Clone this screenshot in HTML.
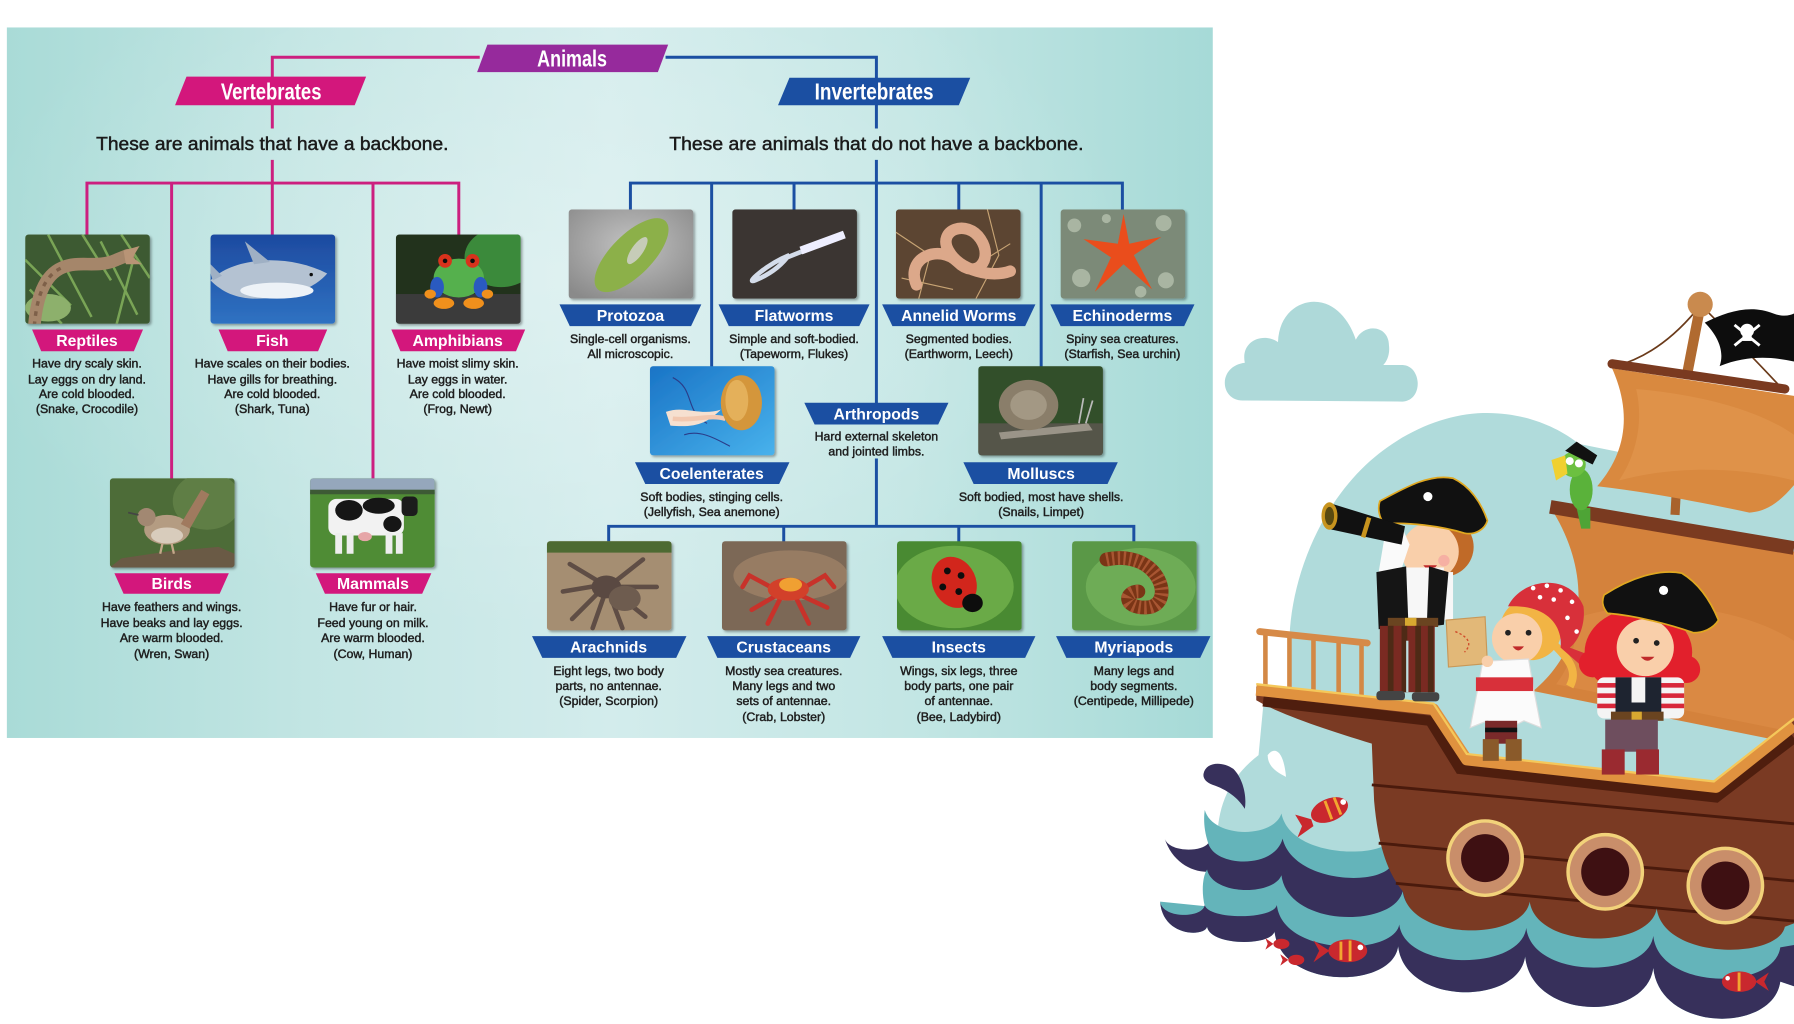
<!DOCTYPE html>
<html><head><meta charset="utf-8"><style>
html,body{margin:0;padding:0;background:#fff;overflow:hidden;}
svg{display:block;}
.b{font-family:"Liberation Sans",sans-serif;font-size:10.8px;fill:#1e1e1e;stroke:#1e1e1e;stroke-width:0.4;text-anchor:middle;}
.l{font-family:"Liberation Sans",sans-serif;font-size:13.8px;font-weight:bold;fill:#fff;text-anchor:middle;}
.h{font-family:"Liberation Sans",sans-serif;font-size:20px;font-weight:bold;fill:#fff;text-anchor:middle;}
.s{font-family:"Liberation Sans",sans-serif;font-size:16px;fill:#1a1a1a;stroke:#1a1a1a;stroke-width:0.4;text-anchor:middle;}
</style></head><body>
<svg width="1794" height="1024" viewBox="0 0 1568 895" xmlns="http://www.w3.org/2000/svg">
<defs>
<linearGradient id="bg" x1="0" y1="0" x2="1" y2="0">
<stop offset="0" stop-color="#a9dbd7"/><stop offset="0.25" stop-color="#c2e5e3"/><stop offset="0.5" stop-color="#d3ecec"/><stop offset="0.75" stop-color="#c3e6e4"/><stop offset="1" stop-color="#a6dad7"/>
</linearGradient>
<radialGradient id="glow" cx="0.45" cy="0.35" r="0.5"><stop offset="0" stop-color="#fff" stop-opacity="0.3"/><stop offset="1" stop-color="#fff" stop-opacity="0"/></radialGradient>
<clipPath id="ic"><rect width="109" height="78" rx="3"/></clipPath>
<filter id="sh" x="-10%" y="-10%" width="125%" height="125%"><feDropShadow dx="1.5" dy="1.5" stdDeviation="1.2" flood-color="#000" flood-opacity="0.35"/></filter>
<linearGradient id="shark" x1="0" y1="0" x2="0" y2="1"><stop offset="0" stop-color="#1d4aa0"/><stop offset="1" stop-color="#2f72c2"/></linearGradient>
<linearGradient id="jelly" x1="0" y1="0" x2="1" y2="1"><stop offset="0" stop-color="#1a74c6"/><stop offset="1" stop-color="#48b2ec"/></linearGradient>
<radialGradient id="proto" cx="0.5" cy="0.4" r="0.7"><stop offset="0" stop-color="#c2c2c2"/><stop offset="1" stop-color="#8a8a8a"/></radialGradient>
</defs>

<rect x="6" y="24" width="1054" height="621" fill="url(#bg)"/>
<rect x="6" y="24" width="1054" height="621" fill="url(#glow)"/>

<g fill="none" stroke-width="2.6" stroke-linecap="square">
<path stroke="#cc1f7f" d="M418,50 H238 V67 M238,92 V111 M238,141 V160 M76,160 H401 M76,160 V205 M150,160 V418 M238,160 V205 M326,160 V418 M401,160 V205"/>
<path stroke="#1b4fa2" d="M583,50 H766 V68 M766,92 V111 M766,141 V160 M551,160 H981 M551,160 V183 M622,160 V320 M694,160 V183 M766,160 V352 M838,160 V183 M910,160 V320 M981,160 V183 M766,402 V460 M532,460 H991 M532,460 V473 M685,460 V473 M838,460 V473 M991,460 V473"/>
</g>

<polygon points="426,39 584,39 575,63 417,63" fill="#962a9c"/>
<text class="h" x="500" y="58" textLength="61" lengthAdjust="spacingAndGlyphs">Animals</text>
<polygon points="163,67 320,67 310,92 153,92" fill="#d3177c"/>
<text class="h" x="237" y="87" textLength="88" lengthAdjust="spacingAndGlyphs">Vertebrates</text>
<polygon points="690,68 848,68 838,92 680,92" fill="#1b4fa2"/>
<text class="h" x="764" y="87" textLength="104" lengthAdjust="spacingAndGlyphs">Invertebrates</text>

<text class="s" x="238" y="131" textLength="308" lengthAdjust="spacingAndGlyphs">These are animals that have a backbone.</text>
<text class="s" x="766" y="131" textLength="362" lengthAdjust="spacingAndGlyphs">These are animals that do not have a backbone.</text>

<g transform="translate(22,205)" filter="url(#sh)"><g clip-path="url(#ic)">
<rect width="109" height="78" fill="#3e5a30"/>
<g stroke="#79a456" stroke-width="2.2" fill="none"><path d="M0,22 L40,62 M20,0 L58,72 M66,6 L98,70 M84,0 L109,38 M4,48 L32,78 M95,20 L80,78 M50,0 L75,40"/></g>
<ellipse cx="20" cy="64" rx="20" ry="12" fill="#8db06c"/>
<path d="M8,80 C10,56 16,36 32,29 C48,22 62,30 80,22 L90,18" stroke="#a5866a" stroke-width="11" fill="none" stroke-linecap="round"/>
<path d="M8,80 C10,56 16,36 32,29" stroke="#7e6048" stroke-width="3" fill="none" stroke-dasharray="4 5"/>
<path d="M86,14 L100,10 L94,20 L102,26 L88,26 Z" fill="#b89476"/>
</g></g>
<g transform="translate(184,205)" filter="url(#sh)"><g clip-path="url(#ic)">
<rect width="109" height="78" fill="url(#shark)"/>
<path d="M0,40 C20,20 66,16 102,34 C92,46 70,56 40,56 C22,56 10,50 0,40 Z" fill="#b4c2d2"/>
<ellipse cx="58" cy="49" rx="32" ry="7" fill="#edf2f7"/>
<path d="M38,26 L30,6 L52,24 Z" fill="#9fb0c4"/>
<path d="M2,40 L-4,22 L10,36 Z" fill="#9fb0c4"/>
<circle cx="88" cy="35" r="1.5" fill="#111"/>
</g></g>
<g transform="translate(346,205)" filter="url(#sh)"><g clip-path="url(#ic)">
<rect width="109" height="78" fill="#22321e"/>
<ellipse cx="92" cy="20" rx="32" ry="26" fill="#3a8a3a"/>
<rect y="52" width="109" height="26" fill="#3a3a3a"/>
<ellipse cx="55" cy="38" rx="22" ry="17" fill="#55b04e"/>
<ellipse cx="36" cy="46" rx="6" ry="9" fill="#2a5ac0"/>
<ellipse cx="74" cy="46" rx="6" ry="9" fill="#2a5ac0"/>
<circle cx="43" cy="23" r="6" fill="#d8321e"/><circle cx="67" cy="23" r="6" fill="#d8321e"/>
<circle cx="43" cy="23" r="2" fill="#111"/><circle cx="67" cy="23" r="2" fill="#111"/>
<ellipse cx="42" cy="60" rx="9" ry="5" fill="#f0901e"/><ellipse cx="68" cy="60" rx="9" ry="5" fill="#f0901e"/>
<ellipse cx="30" cy="52" rx="5" ry="4" fill="#f0901e"/><ellipse cx="80" cy="52" rx="5" ry="4" fill="#f0901e"/>
</g></g>
<g transform="translate(96,418)" filter="url(#sh)"><g clip-path="url(#ic)">
<rect width="109" height="78" fill="#4d6c37"/>
<ellipse cx="85" cy="20" rx="30" ry="25" fill="#5f7e45"/>
<polygon points="10,70 50,64 95,60 109,66 109,78 0,78" fill="#6b5a44"/>
<ellipse cx="50" cy="45" rx="20" ry="13" fill="#b49c82"/>
<ellipse cx="50" cy="50" rx="14" ry="7" fill="#d8ccbc"/>
<circle cx="32" cy="34" r="8" fill="#a28872"/>
<polygon points="62,40 80,10 87,14 70,44" fill="#a07a5e"/>
<path d="M25,32 L16,30" stroke="#444" stroke-width="1.5"/>
<path d="M46,57 L44,66 M54,57 L56,66" stroke="#c4a88a" stroke-width="2"/>
</g></g>
<g transform="translate(271,418)" filter="url(#sh)"><g clip-path="url(#ic)">
<rect width="109" height="78" fill="#4f8c36"/>
<rect width="109" height="12" fill="#95a7bc"/>
<rect y="10" width="109" height="4" fill="#3e5a36"/>
<rect x="16" y="18" width="66" height="32" rx="7" fill="#f2f2f2"/>
<ellipse cx="34" cy="28" rx="12" ry="9" fill="#151515"/>
<ellipse cx="60" cy="24" rx="14" ry="7" fill="#151515"/>
<ellipse cx="72" cy="40" rx="8" ry="7" fill="#151515"/>
<rect x="80" y="16" width="14" height="17" rx="4" fill="#1a1a1a"/>
<rect x="22" y="48" width="6" height="18" fill="#eee"/><rect x="32" y="48" width="6" height="18" fill="#eee"/>
<rect x="66" y="48" width="6" height="18" fill="#eee"/><rect x="75" y="48" width="6" height="18" fill="#eee"/>
<ellipse cx="48" cy="51" rx="6" ry="4" fill="#e6a6a8"/>
</g></g>
<g transform="translate(497,183)" filter="url(#sh)"><g clip-path="url(#ic)">
<rect width="109" height="78" fill="url(#proto)"/>
<ellipse cx="55" cy="40" rx="42" ry="18" transform="rotate(-45 55 40)" fill="#8cb04a"/>
<ellipse cx="60" cy="36" rx="14" ry="5" transform="rotate(-55 60 36)" fill="#c6ccb8"/>
</g></g>
<g transform="translate(640,183)" filter="url(#sh)"><g clip-path="url(#ic)">
<rect width="109" height="78" fill="#3b3631"/>
<path d="M50,40 C30,48 10,66 20,62 C30,58 40,52 48,42 L98,22" stroke="#d4dcea" stroke-width="4" fill="none"/>
<path d="M60,36 L98,22" stroke="#eef" stroke-width="7"/>
</g></g>
<g transform="translate(783,183)" filter="url(#sh)"><g clip-path="url(#ic)">
<rect width="109" height="78" fill="#5c4532"/>
<g stroke="#c8a474" stroke-width="1" fill="none"><path d="M0,20 L30,40 L20,78 M80,0 L90,40 L70,78 M5,60 L50,70 M100,30 L60,55"/></g>
<path d="M18,66 C8,42 38,30 54,46 C70,62 86,44 74,26 C62,8 36,18 46,36 C56,54 84,60 100,54" stroke="#dca88a" stroke-width="10" fill="none" stroke-linecap="round"/>
</g></g>
<g transform="translate(927,183)" filter="url(#sh)"><g clip-path="url(#ic)">
<rect width="109" height="78" fill="#7b8a78"/>
<g fill="#a9b5a2"><circle cx="12" cy="14" r="6"/><circle cx="90" cy="12" r="7"/><circle cx="18" cy="60" r="8"/><circle cx="92" cy="62" r="7"/><circle cx="70" cy="72" r="5"/><circle cx="40" cy="8" r="4"/></g>
<polygon points="55,4 60,30 88,24 64,40 80,70 55,48 30,72 44,42 20,26 50,30" fill="#ea4e1c"/>
</g></g>
<g transform="translate(568,320)" filter="url(#sh)"><g clip-path="url(#ic)">
<rect width="109" height="78" fill="url(#jelly)"/>
<g stroke="#2a3e8a" stroke-width="1" fill="none"><path d="M20,10 C40,20 30,40 50,50 M30,60 C45,55 60,65 70,70"/></g>
<path d="M14,40 C30,34 44,44 62,38 C50,50 40,54 18,52 Z" fill="#f6e0d0"/>
<path d="M20,46 C40,48 52,42 66,46" stroke="#f2c8b0" stroke-width="4" fill="none"/>
<ellipse cx="80" cy="32" rx="18" ry="24" fill="#d4963a"/>
<ellipse cx="76" cy="30" rx="10" ry="18" fill="#e4b05a"/>
</g></g>
<g transform="translate(855,320)" filter="url(#sh)"><g clip-path="url(#ic)">
<rect width="109" height="78" fill="#33502a"/>
<rect y="50" width="109" height="28" fill="#54544a"/>
<path d="M18,58 L96,50 L100,56 L20,64 Z" fill="#9a9488"/>
<ellipse cx="44" cy="34" rx="26" ry="22" fill="#8a7e6a"/>
<ellipse cx="44" cy="34" rx="16" ry="13" fill="#a39884"/>
<path d="M88,50 L92,28 M94,50 L100,30" stroke="#bbb" stroke-width="1.5"/>
</g></g>
<g transform="translate(478,473)" filter="url(#sh)"><g clip-path="url(#ic)">
<rect width="109" height="78" fill="#a58e72"/>
<rect width="109" height="10" fill="#4e6a32"/>
<g stroke="#5e4e44" stroke-width="4" fill="none" stroke-linecap="round"><path d="M50,38 L20,20 M50,38 L14,44 M50,40 L22,68 M52,42 L40,76 M56,38 L84,16 M56,40 L96,40 M56,42 L86,66 M54,44 L66,76"/></g>
<ellipse cx="52" cy="40" rx="13" ry="10" fill="#5a4a42"/>
<ellipse cx="68" cy="50" rx="14" ry="11" fill="#6e5c50"/>
</g></g>
<g transform="translate(631,473)" filter="url(#sh)"><g clip-path="url(#ic)">
<rect width="109" height="78" fill="#7c6756"/>
<ellipse cx="60" cy="30" rx="50" ry="22" fill="#977c64"/>
<g stroke="#c8302a" stroke-width="4" fill="none" stroke-linecap="round"><path d="M50,44 L24,30 L18,40 M50,46 L26,60 M52,48 L40,72 M66,44 L90,30 L98,40 M66,46 L92,58 M64,48 L76,72"/></g>
<ellipse cx="58" cy="42" rx="18" ry="10" fill="#d2402a"/>
<ellipse cx="60" cy="38" rx="10" ry="6" fill="#f0a030"/>
</g></g>
<g transform="translate(784,473)" filter="url(#sh)"><g clip-path="url(#ic)">
<rect width="109" height="78" fill="#4a8a30"/>
<ellipse cx="50" cy="40" rx="52" ry="36" fill="#6aaa46"/>
<ellipse cx="50" cy="36" rx="19" ry="23" transform="rotate(-25 50 36)" fill="#d2251e"/>
<ellipse cx="66" cy="54" rx="9" ry="8" fill="#111"/>
<g fill="#111"><circle cx="44" cy="26" r="3"/><circle cx="56" cy="30" r="3"/><circle cx="40" cy="40" r="3"/><circle cx="54" cy="44" r="3"/></g>
</g></g>
<g transform="translate(937,473)" filter="url(#sh)"><g clip-path="url(#ic)">
<rect width="109" height="78" fill="#5a9846"/>
<ellipse cx="60" cy="40" rx="48" ry="34" fill="#6eac56"/>
<path d="M30,16 C78,6 92,58 64,58 C44,58 46,44 58,44" stroke="#7a3418" stroke-width="12" fill="none" stroke-linecap="round"/>
<path d="M30,16 C78,6 92,58 64,58 C44,58 46,44 58,44" stroke="#a85630" stroke-width="12" fill="none" stroke-dasharray="2 3"/>
</g></g>

<g fill="#d3177c">
<polygon points="28,288 125,288 117,307 36,307"/>
<polygon points="191,288 286,288 278,307 199,307"/>
<polygon points="342,288 459,288 451,307 350,307"/>
<polygon points="100,501 200,501 192,519 108,519"/>
<polygon points="276,501 377,501 369,519 284,519"/>
</g>
<g fill="#1b4fa2">
<polygon points="489,266 613,266 604,285 498,285"/>
<polygon points="628,266 760,266 751,285 637,285"/>
<polygon points="771,266 905,266 896,285 780,285"/>
<polygon points="918,266 1044,266 1035,285 927,285"/>
<polygon points="555,404 690,404 681,423 564,423"/>
<polygon points="703,352 829,352 820,371 712,371"/>
<polygon points="842,404 977,404 968,423 851,423"/>
<polygon points="465,556 600,556 591,575 474,575"/>
<polygon points="618,556 752,556 743,575 627,575"/>
<polygon points="771,556 905,556 896,575 780,575"/>
<polygon points="923,556 1058,556 1049,575 932,575"/>
</g>
<text class="l" x="76" y="302.5">Reptiles</text>
<text class="l" x="238" y="302.5">Fish</text>
<text class="l" x="400" y="302.5">Amphibians</text>
<text class="l" x="150" y="515">Birds</text>
<text class="l" x="326" y="515">Mammals</text>
<text class="l" x="551" y="280.5">Protozoa</text>
<text class="l" x="694" y="280.5">Flatworms</text>
<text class="l" x="838" y="280.5">Annelid Worms</text>
<text class="l" x="981" y="280.5">Echinoderms</text>
<text class="l" x="622" y="418.5">Coelenterates</text>
<text class="l" x="766" y="366.5">Arthropods</text>
<text class="l" x="910" y="418.5">Molluscs</text>
<text class="l" x="532" y="570.5">Arachnids</text>
<text class="l" x="685" y="570.5">Crustaceans</text>
<text class="l" x="838" y="570.5">Insects</text>
<text class="l" x="991" y="570.5">Myriapods</text>

<g class="b">
<text x="76" y="321">Have dry scaly skin.</text><text x="76" y="335">Lay eggs on dry land.</text><text x="76" y="348">Are cold blooded.</text><text x="76" y="361">(Snake, Crocodile)</text>
<text x="238" y="321">Have scales on their bodies.</text><text x="238" y="335">Have gills for breathing.</text><text x="238" y="348">Are cold blooded.</text><text x="238" y="361">(Shark, Tuna)</text>
<text x="400" y="321">Have moist slimy skin.</text><text x="400" y="335">Lay eggs in water.</text><text x="400" y="348">Are cold blooded.</text><text x="400" y="361">(Frog, Newt)</text>
<text x="150" y="534">Have feathers and wings.</text><text x="150" y="548">Have beaks and lay eggs.</text><text x="150" y="561">Are warm blooded.</text><text x="150" y="575">(Wren, Swan)</text>
<text x="326" y="534">Have fur or hair.</text><text x="326" y="548">Feed young on milk.</text><text x="326" y="561">Are warm blooded.</text><text x="326" y="575">(Cow, Human)</text>
<text x="551" y="300">Single-cell organisms.</text><text x="551" y="313">All microscopic.</text>
<text x="694" y="300">Simple and soft-bodied.</text><text x="694" y="313">(Tapeworm, Flukes)</text>
<text x="838" y="300">Segmented bodies.</text><text x="838" y="313">(Earthworm, Leech)</text>
<text x="981" y="300">Spiny sea creatures.</text><text x="981" y="313">(Starfish, Sea urchin)</text>
<text x="622" y="438">Soft bodies, stinging cells.</text><text x="622" y="451">(Jellyfish, Sea anemone)</text>
<text x="766" y="385">Hard external skeleton</text><text x="766" y="398">and jointed limbs.</text>
<text x="910" y="438">Soft bodied, most have shells.</text><text x="910" y="451">(Snails, Limpet)</text>
<text x="532" y="590">Eight legs, two body</text><text x="532" y="603">parts, no antennae.</text><text x="532" y="616">(Spider, Scorpion)</text>
<text x="685" y="590">Mostly sea creatures.</text><text x="685" y="603">Many legs and two</text><text x="685" y="616">sets of antennae.</text><text x="685" y="630">(Crab, Lobster)</text>
<text x="838" y="590">Wings, six legs, three</text><text x="838" y="603">body parts, one pair</text><text x="838" y="616">of antennae.</text><text x="838" y="630">(Bee, Ladybird)</text>
<text x="991" y="590">Many legs and</text><text x="991" y="603">body segments.</text><text x="991" y="616">(Centipede, Millipede)</text>
</g>

<!-- ===== PIRATE SCENE ===== -->
<path fill="#aed9d9" d="M1086,350 C1066,350 1064,320 1088,317 C1084,298 1104,290 1117,299 C1118,272 1138,262 1152,264 C1170,266 1181,284 1185,297 C1192,282 1214,284 1214,302 C1215,310 1212,316 1209,319 L1226,319 C1243,320 1244,350 1226,351 Z"/>
<path fill="#b0dbdb" d="M1064,735 C1064,705 1074,680 1100,660 L1104,618 L1127,600 L1127,560 C1128,510 1150,450 1190,410 C1220,380 1260,362 1296,361 C1330,360 1360,372 1380,388 L1420,396 L1568,400 L1568,790 L1100,790 C1080,775 1066,760 1064,735 Z"/>
<path fill="#fff" d="M1108,660 C1114,652 1122,656 1124,679 C1116,675 1108,670 1108,660 Z"/>
<path fill="#37305b" d="M1052,676 C1054,666 1068,665 1078,672 C1086,680 1090,695 1088,707 C1082,697 1072,690 1060,686 C1054,684 1051,680 1052,676 Z"/>

<path d="M1486,268 L1474,330" stroke="#b06a30" stroke-width="9"/>
<path d="M1470,340 L1464,450" stroke="#a8622c" stroke-width="8"/>
<path d="M1482,272 Q1450,310 1412,320 M1492,272 Q1530,310 1556,338" stroke="#6a3a1a" stroke-width="1.5" fill="none"/>
<path fill="#0d0d0d" d="M1490,282 C1510,272 1530,266 1550,274 C1558,277 1564,276 1568,274 L1568,316 C1550,312 1528,310 1503,320 C1508,306 1500,292 1490,282 Z"/>
<circle cx="1527" cy="289" r="6" fill="#fff"/><rect x="1523" y="293" width="8" height="5" fill="#fff"/>
<path d="M1516,284 L1538,302 M1538,284 L1516,302" stroke="#fff" stroke-width="2.5"/>
<circle cx="1486" cy="266" r="11" fill="#c98a4e"/>
<path fill="#d9893f" d="M1409,322 L1568,346 L1568,424 C1556,438 1545,447 1529,448 C1482,438 1440,430 1396,425 C1422,395 1426,360 1409,322 Z"/>
<path fill="#e29750" d="M1430,340 C1490,345 1540,360 1568,380 L1568,420 C1530,410 1470,405 1415,420 C1432,395 1436,365 1430,340 Z" opacity="0.6"/>
<path fill="#d4823c" d="M1358,448 L1568,482 L1568,650 L1340,604 C1386,566 1392,505 1358,448 Z"/>
<path fill="#de8e48" d="M1378,540 C1440,520 1520,530 1568,560 L1568,640 L1360,598 C1374,580 1378,560 1378,540 Z" opacity="0.6"/>
<path d="M1409,318 L1560,340" stroke="#7a3a20" stroke-width="8" stroke-linecap="round"/>
<path d="M1355,443 L1568,479" stroke="#7a3a20" stroke-width="12"/>

<g stroke="#d38845" stroke-width="4"><path d="M1106,555 V602 M1127,557 V603 M1148,558 V605 M1170,560 V607 M1190,561 V608"/></g>
<path d="M1101,552 L1195,562" stroke="#d68a48" stroke-width="6" stroke-linecap="round"/>

<!-- back waves (behind hull) -->
<path fill="#64b4ba" d="M1053,708 C1060,733 1113,733 1120,711 C1128,750 1205,750 1215,735 L1245,735 L1245,800 L1060,800 L1056,737 C1052,725 1052,715 1053,708 Z"/>
<path fill="#37305b" d="M1018,733 C1022,745 1050,745 1056,737 C1062,758 1114,760 1121,733 C1130,770 1200,775 1215,758 L1245,758 L1245,815 L1058,815 L1055,762 C1040,762 1024,752 1018,733 Z"/>

<!-- hull -->
<path fill="#7a3a23" d="M1098,600 L1253,617 L1282,662 L1500,686 L1568,630 L1568,850 L1240,825 L1226,779 C1215,765 1205,745 1201,700 L1199,650 C1160,638 1120,625 1098,612 Z"/>
<path fill="none" stroke="#4f1e0e" stroke-width="9" d="M1104,613 L1250,630 L1276,672 L1500,697 L1568,645"/>
<path fill="none" stroke="#e0923f" stroke-width="10" stroke-linejoin="round" d="M1098,603 L1253,620 L1282,664 L1500,688 L1568,634"/>
<path fill="none" stroke="#f5c85a" stroke-width="2" d="M1098,598 L1253,615 L1282,659 L1498,683 L1568,628"/>
<g stroke="#4a1a0c" stroke-width="2.5" fill="none"><path d="M1199,686 L1568,720 M1205,737 L1568,770 M1220,772 L1568,805"/></g>
<g><circle cx="1298" cy="750" r="34" fill="#f2d27a"/><circle cx="1298" cy="750" r="31" fill="#c98e6a"/><circle cx="1298" cy="750" r="21" fill="#3e1012"/></g>
<g><circle cx="1403" cy="762" r="34" fill="#f2d27a"/><circle cx="1403" cy="762" r="31" fill="#c98e6a"/><circle cx="1403" cy="762" r="21" fill="#3e1012"/></g>
<g><circle cx="1508" cy="774" r="34" fill="#f2d27a"/><circle cx="1508" cy="774" r="31" fill="#c98e6a"/><circle cx="1508" cy="774" r="21" fill="#3e1012"/></g>

<!-- parrot -->
<polygon points="1378,444 1390,444 1390,462 1382,462" fill="#4ea436"/>
<ellipse cx="1382" cy="428" rx="10" ry="18" fill="#5ab23a"/>
<circle cx="1375" cy="406" r="11" fill="#6cc040"/>
<polygon points="1356,402 1368,398 1370,414 1360,420" fill="#f0d030"/>
<circle cx="1372" cy="403" r="3.5" fill="#fff"/><circle cx="1380" cy="405" r="3.5" fill="#fff"/>
<polygon points="1368,394 1378,386 1396,398 1392,406" fill="#111"/>

<!-- boy -->
<circle cx="1262" cy="478" r="26" fill="#c06a28"/>
<circle cx="1250" cy="482" r="25" fill="#f9cfaa"/>
<circle cx="1262" cy="490" r="5" fill="#f5a3a0" opacity="0.7"/>
<path d="M1244,494 Q1250,502 1256,494 Z" fill="#c02a2a"/>
<path d="M1206,438 C1230,425 1250,414 1270,418 C1285,425 1295,440 1300,455 C1298,462 1290,468 1280,466 C1260,460 1230,456 1210,458 C1205,452 1204,444 1206,438 Z" fill="#111" stroke="#e0a820" stroke-width="1.5"/>
<circle cx="1248" cy="434" r="4" fill="#fff"/>
<path d="M1204,506 L1210,470 L1226,462 L1232,476 L1222,506 Z" fill="#fafafa"/>
<path d="M1163,440 L1228,460 L1225,476 L1160,462 Z" fill="#111"/>
<ellipse cx="1162" cy="451" rx="7" ry="12" fill="#c8941e"/>
<ellipse cx="1162" cy="451" rx="4" ry="8" fill="#5a4a10"/>
<rect x="1192" y="452" width="4" height="18" fill="#c8941e" transform="rotate(17 1194 461)"/>
<rect x="1222" y="496" width="40" height="50" fill="#f7f7f7"/>
<rect x="1258" y="500" width="12" height="42" fill="#f7f7f7"/>
<polygon points="1203,500 1229,495 1231,546 1205,550" fill="#151515"/>
<polygon points="1249,495 1266,500 1262,546 1247,548" fill="#151515"/>
<rect x="1213" y="540" width="44" height="8" fill="#6a4420"/>
<rect x="1228" y="540" width="10" height="8" fill="#d8a830"/>
<rect x="1206" y="547" width="48" height="58" fill="#7a2a22"/>
<g fill="#4e2a16"><rect x="1213" y="547" width="5" height="58"/><rect x="1225" y="547" width="5" height="58"/><rect x="1237" y="547" width="5" height="58"/><rect x="1248" y="547" width="5" height="58"/></g>
<rect x="1229" y="560" width="2" height="45" fill="#bfe0e0"/>
<rect x="1203" y="604" width="25" height="8" rx="3" fill="#444"/><rect x="1234" y="605" width="24" height="8" rx="3" fill="#444"/>

<!-- girl with map -->
<path d="M1355,560 C1370,575 1380,585 1372,600" stroke="#f2b444" stroke-width="7" fill="none"/>
<circle cx="1338" cy="550" r="27" fill="#f2b444"/>
<path d="M1318,530 C1330,505 1372,500 1384,530 C1386,545 1380,560 1372,566 L1388,572 L1380,580 L1364,566 C1366,545 1350,528 1318,530 Z" fill="#d8303a"/>
<g fill="#fff"><circle cx="1340" cy="514" r="2"/><circle cx="1352" cy="512" r="2"/><circle cx="1364" cy="516" r="2"/><circle cx="1374" cy="526" r="2"/><circle cx="1370" cy="540" r="2"/><circle cx="1378" cy="552" r="2"/><circle cx="1358" cy="524" r="2"/><circle cx="1346" cy="522" r="2"/></g>
<circle cx="1326" cy="558" r="22" fill="#f9cfaa"/>
<circle cx="1318" cy="553" r="2.5" fill="#222"/><circle cx="1336" cy="553" r="2.5" fill="#222"/>
<path d="M1322,565 Q1327,572 1332,565 Z" fill="#c02a2a"/>
<polygon points="1296,578 1336,576 1340,600 1347,636 1332,630 1316,638 1300,630 1285,636 1292,600" fill="#fbfbfb" stroke="#ddd" stroke-width="1"/>
<rect x="1290" y="592" width="50" height="12" fill="#d8303a"/>
<rect x="1298" y="630" width="28" height="20" fill="#7a2a2a"/>
<rect x="1298" y="636" width="28" height="4" fill="#111"/>
<rect x="1296" y="646" width="14" height="19" fill="#8a5a2a"/><rect x="1316" y="646" width="14" height="19" fill="#8a5a2a"/>
<polygon points="1264,542 1298,539 1300,580 1266,583" fill="#e2b878" stroke="#c89858" stroke-width="1"/>
<path d="M1272,552 C1282,556 1288,562 1280,570" stroke="#d04a2a" stroke-width="1.2" fill="none" stroke-dasharray="2 2"/>
<circle cx="1300" cy="578" r="5" fill="#f9cfaa"/>

<!-- red-haired girl -->
<ellipse cx="1432" cy="570" rx="47" ry="38" fill="#e2202c"/>
<circle cx="1392" cy="580" r="12" fill="#e2202c"/><circle cx="1474" cy="585" r="12" fill="#e2202c"/>
<circle cx="1438" cy="566" r="25" fill="#f9cfaa"/>
<circle cx="1430" cy="560" r="2.5" fill="#222"/><circle cx="1448" cy="562" r="2.5" fill="#222"/>
<path d="M1434,574 Q1440,581 1446,574 Z" fill="#c02a2a"/>
<path d="M1402,520 C1425,505 1450,497 1470,501 C1485,510 1495,525 1502,542 C1497,550 1488,553 1480,553 C1460,546 1430,538 1405,536 C1400,530 1400,525 1402,520 Z" fill="#111" stroke="#e0a820" stroke-width="1.5"/>
<circle cx="1454" cy="516" r="4" fill="#fff"/>
<rect x="1396" y="592" width="76" height="36" rx="6" fill="#f4f4f4"/>
<g fill="#d8283a"><rect x="1396" y="597" width="76" height="4"/><rect x="1396" y="606" width="76" height="4"/><rect x="1396" y="615" width="76" height="4"/></g>
<rect x="1412" y="592" width="40" height="34" fill="#1e2430"/>
<rect x="1426" y="592" width="12" height="22" fill="#f4f4f4"/>
<rect x="1408" y="622" width="46" height="8" fill="#6a4420"/>
<rect x="1426" y="622" width="9" height="8" fill="#d8a830"/>
<rect x="1403" y="629" width="46" height="28" fill="#6e4e5e"/>
<rect x="1400" y="655" width="20" height="22" fill="#9a2a30"/><rect x="1430" y="655" width="20" height="22" fill="#9a2a30"/>

<!-- front waves -->
<path fill="#64b4ba" d="M1053,792 C1050,780 1051,766 1055,760 C1060,783 1113,783 1120,765 C1126,811 1218,811 1226,779 C1232,823 1331,823 1337,788 C1343,830 1442,830 1448,794 C1454,839 1554,839 1560,810 L1568,807 L1568,862 L1556,858 C1550,903 1451,903 1445,846 C1439,893 1339,893 1333,836 C1327,879 1228,879 1222,827 C1217,865 1119,865 1114,814 C1111,827 1058,827 1055,810 C1053,819 1016,819 1014,788 Z"/>
<path fill="#37305b" d="M1014,788 C1016,803 1051,803 1053,791 C1056,804 1113,804 1116,791 C1121,836 1218,836 1223,808 C1228,849 1329,849 1334,811 C1339,856 1440,856 1445,818 C1450,866 1551,866 1556,828 L1568,826 L1568,862 L1556,858 C1550,903 1451,903 1445,846 C1439,893 1339,893 1333,836 C1327,879 1228,879 1222,827 C1217,865 1119,865 1114,814 C1111,827 1058,827 1055,810 C1053,819 1016,819 1014,788 Z"/>

<!-- fish -->
<g fill="#c9282e">
<ellipse cx="1162" cy="708" rx="17" ry="10" transform="rotate(-22 1162 708)"/>
<polygon points="1146,716 1132,712 1138,722 1134,732 1148,722"/>
<ellipse cx="1178" cy="831" rx="17" ry="10"/>
<polygon points="1162,831 1148,822 1153,831 1148,841"/>
<ellipse cx="1120" cy="825" rx="7" ry="4.5"/>
<polygon points="1113,825 1106,820 1108,825 1106,830"/>
<ellipse cx="1133" cy="839" rx="7" ry="4.5"/>
<polygon points="1126,839 1119,834 1121,839 1119,844"/>
<ellipse cx="1520" cy="858" rx="15" ry="9"/>
<polygon points="1534,858 1546,850 1542,858 1546,866"/>
</g>
<g stroke="#f2a630" stroke-width="2.5"><path d="M1158,700 L1164,716 M1166,697 L1172,712 M1172,823 L1172,839 M1180,822 L1180,840 M1520,850 L1520,866"/></g>
<g fill="#fff"><circle cx="1174" cy="701" r="2.5"/><circle cx="1189" cy="828" r="2.5"/><circle cx="1510" cy="855" r="2"/></g>
</svg>
</body></html>
